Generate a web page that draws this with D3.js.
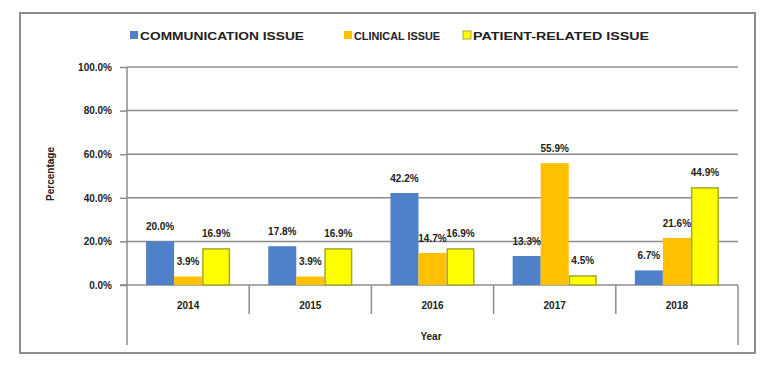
<!DOCTYPE html>
<html>
<head>
<meta charset="utf-8">
<script src="https://cdn.jsdelivr.net/npm/d3@7"></script>
<style>
  body { margin: 0; background: #fff; }
  text { font-family: "Liberation Sans", Arial, sans-serif; font-weight: bold; fill: #222; }
</style>
</head>
<body>
<div id="container"></div>
<script>
/* DATA */
const years = ["2014", "2015", "2016", "2017", "2018"];
const seriesNames = ["COMMUNICATION ISSUE", "CLINICAL ISSUE", "PATIENT-RELATED ISSUE"];
const communication = [20.0, 17.8, 42.2, 13.3, 6.7];
const clinical = [3.9, 3.9, 14.7, 55.9, 21.6];
const patient = [16.9, 16.9, 16.9, 4.5, 44.9];
const yTicks = [0, 20, 40, 60, 80, 100];

const colors = ["#4f81c9", "#ffc000", "#ffff00"];
const strokes = ["none", "none", "#a3aa2a"];

/* CONSTANTS */
const width = 768, height = 372;
const margin = {top: 67, bottom: 87, left: 127, right: 30};

const rows = years.map((y, i) => ({
  year: y,
  values: [communication[i], clinical[i], patient[i]]
}));

const svg = d3.select("#container")
  .append("svg")
    .attr("width", width)
    .attr("height", height);

// outer frame
svg.append("rect")
  .attr("x", 20).attr("y", 13)
  .attr("width", 735).attr("height", 340)
  .attr("fill", "none")
  .attr("stroke", "#8c8c8c")
  .attr("stroke-width", 2);

/* SCALES */
const x0 = d3.scaleBand()
  .domain(years)
  .range([margin.left, width - margin.right])
  .paddingInner(0).paddingOuter(0);

const x1 = d3.scaleBand()
  .domain(d3.range(seriesNames.length))
  .range([0, x0.bandwidth()])
  .paddingInner(0)
  .paddingOuter(0.68);

const y = d3.scaleLinear()
  .domain([0, 100])
  .range([height - margin.bottom, margin.top]);

const y0 = y(0);

/* GRIDLINES */
svg.append("g")
  .selectAll("line")
  .data(yTicks.filter(d => d > 0))
  .join("line")
    .attr("x1", margin.left)
    .attr("x2", width - margin.right)
    .attr("y1", d => y(d))
    .attr("y2", d => y(d))
    .attr("stroke", "#8c8c8c")
    .attr("stroke-width", 1.5);

/* Y AXIS */
const yAxis = svg.append("g")
  .attr("transform", `translate(${margin.left},0)`)
  .call(d3.axisLeft(y).tickValues(yTicks).tickSize(7).tickPadding(8)
    .tickFormat(d => d.toFixed(1) + "%"));
yAxis.select(".domain").remove();
yAxis.selectAll(".tick line").attr("stroke", "#8c8c8c").attr("stroke-width", 1.5);
yAxis.selectAll(".tick text")
  .attr("font-size", "10px")
  .attr("font-family", "Liberation Sans, Arial, sans-serif")
  .attr("font-weight", "bold")
  .attr("fill", "#222");

// y axis line runs down through the category label area
svg.append("line")
  .attr("x1", margin.left).attr("x2", margin.left)
  .attr("y1", margin.top).attr("y2", 345)
  .attr("stroke", "#8c8c8c").attr("stroke-width", 1.5);

/* X AXIS (category boxes) */
svg.append("line")
  .attr("x1", margin.left - 7).attr("x2", width - margin.right)
  .attr("y1", y0).attr("y2", y0)
  .attr("stroke", "#8c8c8c").attr("stroke-width", 1.5);

svg.append("g")
  .selectAll("line")
  .data(years.slice(1))
  .join("line")
    .attr("x1", d => x0(d)).attr("x2", d => x0(d))
    .attr("y1", y0).attr("y2", 314)
    .attr("stroke", "#8c8c8c").attr("stroke-width", 1.5);

svg.append("line")
  .attr("x1", width - margin.right).attr("x2", width - margin.right)
  .attr("y1", y0).attr("y2", 345)
  .attr("stroke", "#8c8c8c").attr("stroke-width", 1.5);

svg.append("g")
  .selectAll("text")
  .data(years)
  .join("text")
    .attr("x", d => x0(d) + x0.bandwidth() / 2)
    .attr("y", 309)
    .attr("text-anchor", "middle")
    .attr("font-size", "10px")
    .text(d => d);

/* BARS */
const groups = svg.append("g")
  .selectAll("g")
  .data(rows)
  .join("g")
    .attr("transform", d => `translate(${x0(d.year)},0)`);

groups.selectAll("rect")
  .data(d => d.values.map((v, i) => ({i, v})))
  .join("rect")
    .attr("x", d => x1(d.i) + (d.i === 2 ? 0.75 : 0))
    .attr("y", d => y(d.v) + (d.i === 2 ? 0.75 : 0))
    .attr("width", d => x1.bandwidth() - (d.i === 2 ? 1.5 : 0))
    .attr("height", d => y0 - y(d.v) - (d.i === 2 ? 0.75 : 0))
    .attr("fill", d => colors[d.i])
    .attr("stroke", d => strokes[d.i])
    .attr("stroke-width", 1.5);

groups.selectAll("text")
  .data(d => d.values.map((v, i) => ({i, v})))
  .join("text")
    .attr("x", d => x1(d.i) + x1.bandwidth() / 2)
    .attr("y", d => y(d.v) - 11)
    .attr("text-anchor", "middle")
    .attr("font-size", "10px")
    .text(d => d.v.toFixed(1) + "%");

/* AXIS TITLES */
svg.append("text")
  .attr("x", 431).attr("y", 340)
  .attr("text-anchor", "middle")
  .attr("font-size", "10px")
  .text("Year");

svg.append("text")
  .attr("transform", "translate(54,174) rotate(-90)")
  .attr("text-anchor", "middle")
  .attr("font-size", "10px")
  .text("Percentage");

/* LEGEND */
const legendX = [130, 344, 463];
const legendW = [164, 86, 176];
const legend = svg.append("g")
  .selectAll("g")
  .data(seriesNames)
  .join("g")
    .attr("transform", (d, i) => `translate(${legendX[i]},31)`);

legend.append("rect")
  .attr("width", 8).attr("height", 8)
  .attr("fill", (d, i) => colors[i])
  .attr("stroke", (d, i) => strokes[i]);

legend.append("text")
  .attr("x", 10).attr("y", 8.5)
  .attr("font-size", "10.5px")
  .attr("textLength", (d, i) => legendW[i])
  .attr("lengthAdjust", "spacingAndGlyphs")
  .text(d => d);
</script>
</body>
</html>
